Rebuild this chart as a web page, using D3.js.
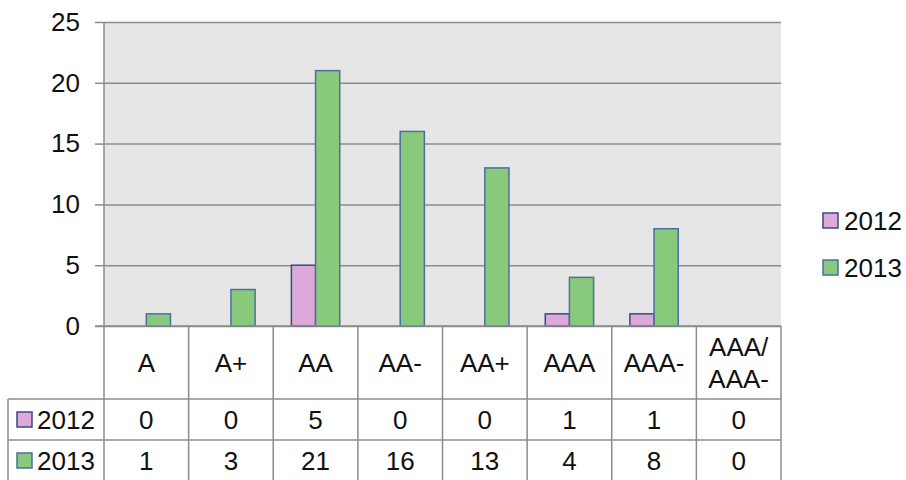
<!DOCTYPE html>
<html>
<head>
<meta charset="utf-8">
<script src="https://cdn.jsdelivr.net/npm/d3@7"></script>
<style>
  html, body { margin: 0; padding: 0; background: #fff; }
  svg { display: block; font-family: "Century Gothic", "Liberation Sans", Arial, sans-serif; }
</style>
</head>
<body>
<svg id="chart" width="906" height="480"></svg>
<script>
// ratings buckets, counts per year
const categories = ['A', 'A+', 'AA', 'AA-', 'AA+', 'AAA', 'AAA-', 'AAA/AAA-'];
const seriesNames = ['2012', '2013'];
const values2012 = [0, 0, 5, 0, 0, 1, 1, 0];
const values2013 = [1, 3, 21, 16, 13, 4, 8, 0];
const yTicks = [0, 5, 10, 15, 20, 25];

const series = [
  { name: seriesNames[0], values: values2012, fill: '#DDA9D8', stroke: '#3A4A80' },
  { name: seriesNames[1], values: values2013, fill: '#89C97B', stroke: '#4A6FA0' }
];

const W = 906, H = 480;
const plot = { left: 104, right: 781, top: 22, bottom: 326 };
const rows = { header: 399, r2012: 440, r2013: 481 };   // bottom edge of each table row
const tableLeft = 8;
const GRID = '#8C8C8C';
const FS = 26;
const INK = '#111';

const svg = d3.select('#chart');

const x = d3.scaleBand().domain(categories).range([plot.left, plot.right]).padding(0);
const y = d3.scaleLinear().domain([0, 25]).range([plot.bottom, plot.top]);
// Excel-like 150% gap: two bars take 2 / 3.5 of the category
const barW = x.bandwidth() / 3.5;

// plot background
svg.append('rect')
  .attr('x', plot.left).attr('y', plot.top)
  .attr('width', plot.right - plot.left).attr('height', plot.bottom - plot.top)
  .attr('fill', '#E6E6E6');

// gridlines + y axis
const yAxis = d3.axisLeft(y).tickValues(yTicks).tickSize(9).tickPadding(15);
const gy = svg.append('g').attr('transform', `translate(${plot.left},0)`).call(yAxis);
gy.select('.domain').remove();
gy.selectAll('.tick line').attr('stroke', GRID).attr('stroke-width', 1.5);
gy.selectAll('.tick').append('line')
  .attr('x1', 0).attr('x2', plot.right - plot.left)
  .attr('stroke', GRID).attr('stroke-width', 1.5);
gy.selectAll('.tick text')
  .attr('font-size', FS).attr('fill', INK)
  .attr('font-family', null);

// vertical axis line
svg.append('line')
  .attr('x1', plot.left).attr('x2', plot.left)
  .attr('y1', plot.top).attr('y2', H)
  .attr('stroke', GRID).attr('stroke-width', 1.5);

// bars
series.forEach((s, si) => {
  svg.append('g').selectAll('rect')
    .data(categories.map((c, i) => ({ c, v: s.values[i] })).filter(d => d.v > 0))
    .join('rect')
      .attr('x', d => x(d.c) + x.bandwidth() / 2 - barW + si * barW)
      .attr('y', d => y(d.v))
      .attr('width', barW)
      .attr('height', d => y(0) - y(d.v))
      .attr('fill', s.fill)
      .attr('stroke', s.stroke)
      .attr('stroke-width', 1.5);
});

// data table grid
const tg = svg.append('g').attr('stroke', GRID).attr('stroke-width', 1.5);
tg.append('line').attr('x1', plot.left - 9).attr('x2', plot.right).attr('y1', plot.bottom).attr('y2', plot.bottom);
[rows.header, rows.r2012].forEach(yy => {
  tg.append('line').attr('x1', tableLeft).attr('x2', plot.right).attr('y1', yy).attr('y2', yy);
});
tg.append('line').attr('x1', tableLeft).attr('x2', tableLeft).attr('y1', rows.header).attr('y2', H);
categories.forEach(c => {
  tg.append('line').attr('x1', x(c) + x.bandwidth()).attr('x2', x(c) + x.bandwidth())
    .attr('y1', plot.bottom).attr('y2', H);
});

// header labels (wrap after "/")
const headMid = (plot.bottom + rows.header) / 2;
svg.append('g').selectAll('text').data(categories).join('text')
  .attr('text-anchor', 'middle')
  .attr('font-size', FS).attr('fill', INK)
  .each(function(c) {
    const parts = c.split(/(?<=\/)/);
    const t = d3.select(this);
    const lh = 32;
    parts.forEach((p, i) => {
      t.append('tspan')
        .attr('x', x(c) + x.bandwidth() / 2)
        .attr('y', headMid + 9 + (i - (parts.length - 1) / 2) * lh)
        .text(p);
    });
  });

// value rows
const rowMids = [(rows.header + rows.r2012) / 2, (rows.r2012 + rows.r2013) / 2];
series.forEach((s, si) => {
  const g = svg.append('g');
  g.selectAll('text').data(categories).join('text')
    .attr('x', c => x(c) + x.bandwidth() / 2)
    .attr('y', rowMids[si] + 9)
    .attr('text-anchor', 'middle')
    .attr('font-size', FS).attr('fill', INK)
    .text((c, i) => s.values[i]);
  g.append('rect')
    .attr('x', 17).attr('y', rowMids[si] - 7.5)
    .attr('width', 15).attr('height', 15)
    .attr('fill', s.fill).attr('stroke', s.stroke).attr('stroke-width', 1.5);
  g.append('text')
    .attr('x', 37).attr('y', rowMids[si] + 9)
    .attr('font-size', FS).attr('fill', INK)
    .text(s.name);
});

// legend
const legend = svg.append('g').attr('transform', 'translate(823,213)');
series.forEach((s, si) => {
  const li = legend.append('g').attr('transform', `translate(0,${si * 47})`);
  li.append('rect').attr('width', 15).attr('height', 15)
    .attr('fill', s.fill).attr('stroke', s.stroke).attr('stroke-width', 1.5);
  li.append('text').attr('x', 21).attr('y', 17)
    .attr('font-size', FS).attr('fill', INK)
    .text(s.name);
});
</script>
</body>
</html>
